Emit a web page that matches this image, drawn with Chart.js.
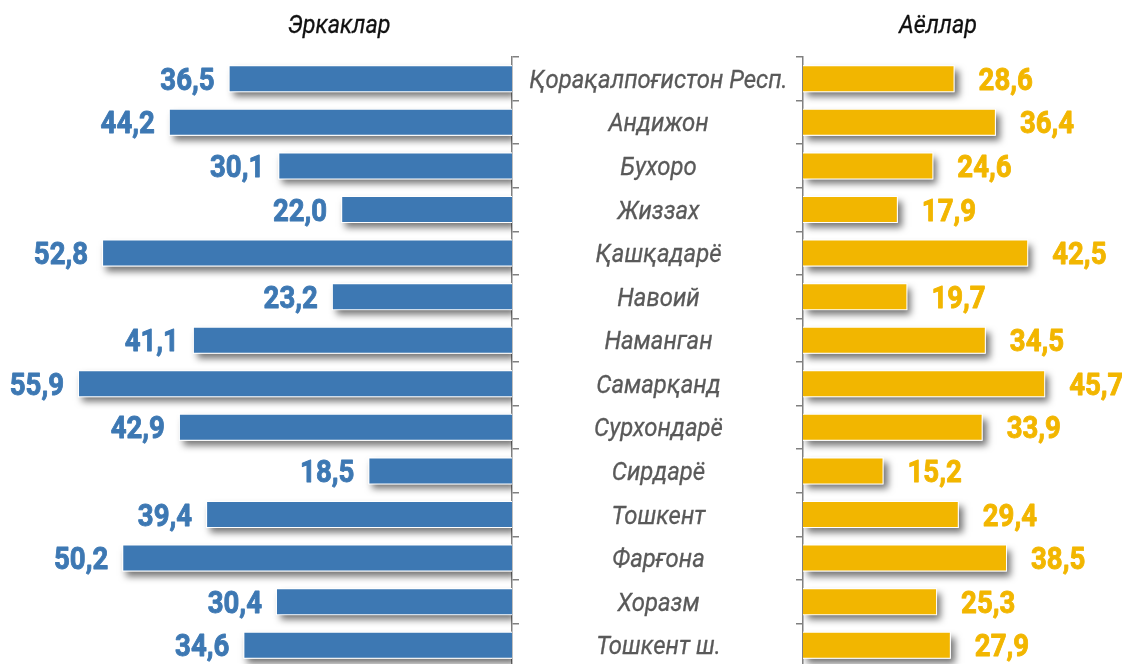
<!DOCTYPE html>
<html>
<head>
<meta charset="utf-8">
<script src="https://cdn.jsdelivr.net/npm/chart.js@4/dist/chart.umd.min.js"></script>
<style>
  html, body { margin: 0; padding: 0; background: #fff; overflow: hidden; width: 1122px; height: 664px; }
  #wrap { position: relative; width: 1122px; height: 700px; }
  #male { position: absolute; left: 0; top: 0; }
  #female { position: absolute; left: 700px; top: 0; }
</style>
</head>
<body>
<div id="wrap">
  <canvas id="male" width="803" height="700"></canvas>
  <canvas id="female" width="422" height="700"></canvas>
</div>
<script>
// Regions (top to bottom)
var regions = [
  'Қорақалпоғистон Респ.', 'Андижон', 'Бухоро', 'Жиззах', 'Қашқадарё', 'Навоий',
  'Наманган', 'Самарқанд', 'Сурхондарё', 'Сирдарё', 'Тошкент', 'Фарғона',
  'Хоразм', 'Тошкент ш.'
];
var maleValues = [36.5, 44.2, 30.1, 22.0, 52.8, 23.2, 41.1, 55.9, 42.9, 18.5, 39.4, 50.2, 30.4, 34.6];
var femaleValues = [28.6, 36.4, 24.6, 17.9, 42.5, 19.7, 34.5, 45.7, 33.9, 15.2, 29.4, 38.5, 25.3, 27.9];
var maleTitle = 'Эркаклар';
var femaleTitle = 'Аёллар';

var COLORS = {
  male: '#3D78B3',
  female: '#F2B600',
  axis: '#808080',
  region: '#595959',
  title: '#111111'
};

function fmt(v) { return v.toFixed(1).replace('.', ','); }

// roboto squeezed horizontally, to get close to the condensed face of the original
function drawNarrow(ctx, text, x, y, align, sx, stroke) {
  ctx.save();
  ctx.translate(x, y);
  ctx.scale(sx, 1);
  ctx.textAlign = align;
  ctx.textBaseline = 'alphabetic';
  if (stroke) {
    ctx.lineWidth = stroke;
    ctx.lineJoin = 'round';
    ctx.strokeStyle = ctx.fillStyle;
    ctx.strokeText(text, 0, 0);
  }
  ctx.fillText(text, 0, 0);
  ctx.restore();
}

/* soft drop shadow behind each bar, clipped to the plot area */
var barShadow = {
  id: 'barShadow',
  beforeDatasetsDraw: function(chart) {
    var ctx = chart.ctx, a = chart.chartArea;
    ctx.save();
    ctx.beginPath();
    ctx.rect(a.left, a.top, a.right - a.left, a.bottom - a.top);
    ctx.clip();
    ctx.shadowColor = 'rgba(0,0,0,0.55)';
    ctx.shadowBlur = 7;
    ctx.shadowOffsetX = 4;
    ctx.shadowOffsetY = 5;
    ctx.fillStyle = '#fff';
    chart.getDatasetMeta(0).data.forEach(function(bar) {
      var p = bar.getProps(['x', 'y', 'base', 'height'], true);
      ctx.fillRect(Math.min(p.x, p.base), p.y - p.height / 2, Math.abs(p.x - p.base), p.height);
    });
    ctx.restore();
  }
};

function valueLabels(color, side, gap) {
  return {
    id: 'valueLabels',
    afterDatasetsDraw: function(chart) {
      var ctx = chart.ctx;
      var vals = chart.data.datasets[0].data;
      ctx.save();
      ctx.font = 'bold 31px Roboto';
      ctx.fillStyle = color;
      chart.getDatasetMeta(0).data.forEach(function(bar, i) {
        var p = bar.getProps(['x', 'y'], true);
        var x = side === 'left' ? p.x - gap : p.x + gap;
        drawNarrow(ctx, fmt(vals[i]), x, p.y + 11, side === 'left' ? 'right' : 'left', 0.89, 0.9);
      });
      ctx.restore();
    }
  };
}

function titleText(text, x) {
  return {
    id: 'sideTitle',
    afterDraw: function(chart) {
      var ctx = chart.ctx;
      ctx.save();
      ctx.font = 'italic 26px Roboto';
      ctx.fillStyle = COLORS.title;
      drawNarrow(ctx, text, x, 33, 'center', 0.9, 0.3);
      ctx.restore();
    }
  };
}

var regionLabels = {
  id: 'regionLabels',
  afterDraw: function(chart) {
    var ctx = chart.ctx, ys = chart.scales.y;
    var cx = ys.left + ys.width / 2 + 1;
    ctx.save();
    ctx.font = 'italic 26px Roboto';
    ctx.fillStyle = COLORS.region;
    regions.forEach(function(r, i) {
      drawNarrow(ctx, r, cx, ys.getPixelForValue(i) + 9, 'center', 0.92, 0.3);
    });
    ctx.restore();
  }
};

function baseOptions(reverse, max, yPos, yWidth) {
  return {
    indexAxis: 'y',
    responsive: false,
    animation: false,
    layout: { padding: { top: 57, bottom: 33, left: 0, right: 0 } },
    plugins: { legend: { display: false }, tooltip: { enabled: false } },
    scales: {
      x: { display: false, min: 0, max: max, reverse: reverse },
      y: {
        position: yPos,
        ticks: { display: false },
        grid: {
          offset: true, drawOnChartArea: false, drawTicks: true,
          tickLength: 7, color: COLORS.axis, lineWidth: 1.5
        },
        border: { display: true, color: COLORS.axis, width: 1.5 },
        afterFit: function(s) { s.width = yWidth; }
      }
    }
  };
}

function dataset(values, color) {
  return {
    data: values,
    backgroundColor: color,
    borderColor: '#ffffff',
    borderWidth: 1,
    barPercentage: 0.62,
    categoryPercentage: 1
  };
}

new Chart(document.getElementById('male').getContext('2d'), {
  type: 'bar',
  data: { labels: regions, datasets: [dataset(maleValues, COLORS.male)] },
  options: baseOptions(true, 65.95, 'right', 291),
  plugins: [barShadow, valueLabels(COLORS.male, 'left', 14), titleText(maleTitle, 339), regionLabels]
});

new Chart(document.getElementById('female').getContext('2d'), {
  type: 'bar',
  data: { labels: regions, datasets: [dataset(femaleValues, COLORS.female)] },
  options: baseOptions(false, 60.2, 'left', 103),
  plugins: [barShadow, valueLabels(COLORS.female, 'right', 24), titleText(femaleTitle, 238)]
});
</script>
</body>
</html>
